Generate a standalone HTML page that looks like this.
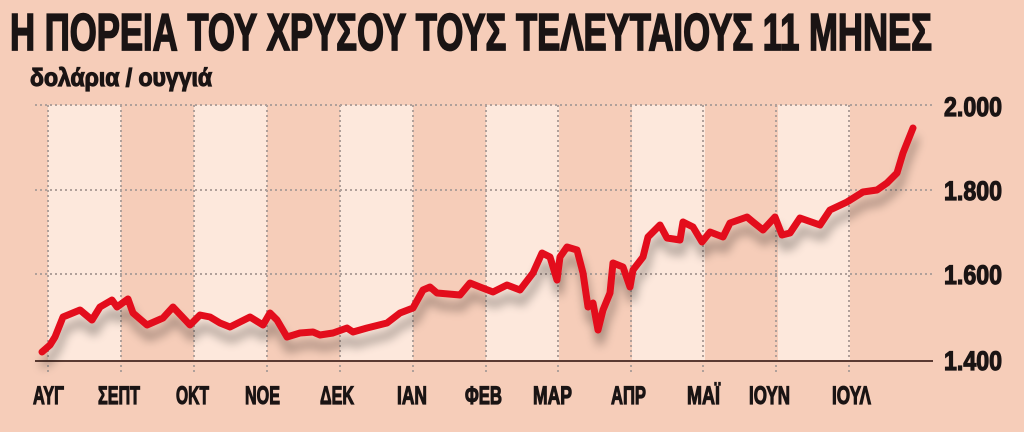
<!DOCTYPE html>
<html><head><meta charset="utf-8"><style>
html,body{margin:0;padding:0;background:#f6cdb9;}
body{width:1024px;height:427px;overflow:hidden;position:relative;font-family:"Liberation Sans",sans-serif;}
</style></head><body>
<svg width="1024" height="427" viewBox="0 0 1024 427" xmlns="http://www.w3.org/2000/svg">
<defs>
<filter id="sh" x="-10%" y="-30%" width="120%" height="180%">
<feGaussianBlur in="SourceAlpha" stdDeviation="5"/>
<feOffset dx="2" dy="12" result="b"/>
<feComponentTransfer><feFuncA type="linear" slope="0.35"/></feComponentTransfer>
<feMerge><feMergeNode/><feMergeNode in="SourceGraphic"/></feMerge>
</filter>
</defs>
<rect width="1024" height="427" fill="#f6cdb9"/>
<g fill="#fde8dc">
<rect x="48" y="105" width="73" height="256"/>
<rect x="194" y="105" width="73" height="256"/>
<rect x="340" y="105" width="73" height="256"/>
<rect x="486" y="105" width="73" height="256"/>
<rect x="632" y="105" width="73" height="256"/>
<rect x="778" y="105" width="72" height="256"/>
</g>
<g stroke="#b0a09a" stroke-width="2" stroke-dasharray="2,3">
<line x1="35" y1="105" x2="933" y2="105"/>
<line x1="35" y1="190" x2="933" y2="190"/>
<line x1="35" y1="274" x2="933" y2="274"/>
<line x1="48" y1="105" x2="48" y2="373"/>
<line x1="121" y1="105" x2="121" y2="373"/>
<line x1="194" y1="105" x2="194" y2="373"/>
<line x1="267" y1="105" x2="267" y2="373"/>
<line x1="340" y1="105" x2="340" y2="373"/>
<line x1="413" y1="105" x2="413" y2="373"/>
<line x1="486" y1="105" x2="486" y2="373"/>
<line x1="558" y1="105" x2="558" y2="373"/>
<line x1="631" y1="105" x2="631" y2="373"/>
<line x1="703" y1="105" x2="703" y2="373"/>
<line x1="776" y1="105" x2="776" y2="373"/>
<line x1="849" y1="105" x2="849" y2="373"/>
</g>
<line x1="35" y1="361" x2="933" y2="361" stroke="#5a3a32" stroke-width="2"/>
<polyline filter="url(#sh)" fill="none" stroke="#e3101e" stroke-width="7" stroke-linejoin="round" stroke-linecap="round"
points="42,352 50,345 55,337 63,317 80,310 92,320 100,307 112,300 117,307 128,299 133,313 147,325 163,318 173,307 190,325 200,315 210,317 220,323 230,327 240,322 250,317 263,325 270,313 277,320 287,337 300,333 313,332 320,335 333,333 347,328 353,332 367,328 387,323 400,313 413,308 423,290 430,287 437,293 460,295 470,283 480,287 493,292 507,285 520,290 533,273 542,253 550,257 557,280 560,257 567,247 577,250 583,273 588,307 593,303 598,330 603,310 610,293 613,263 623,267 630,287 633,270 643,257 648,237 660,225 667,238 680,240 683,222 693,227 702,242 710,232 723,237 730,223 747,217 753,222 763,230 775,217 782,235 790,233 800,218 820,225 830,210 847,202 863,192 877,190 887,183 897,173 903,153 913,128"/>
<g font-family="Liberation Sans, sans-serif" font-weight="bold" fill="#1a1414" stroke="#1a1414" stroke-width="1.2">
<text x="10" y="50" font-size="52" textLength="922" lengthAdjust="spacingAndGlyphs" stroke-width="1.8">Η ΠΟΡΕΙΑ ΤΟΥ ΧΡΥΣΟΥ ΤΟΥΣ ΤΕΛΕΥΤΑΙΟΥΣ 11 ΜΗΝΕΣ</text>
<text x="30" y="86" font-size="25" textLength="182" lengthAdjust="spacingAndGlyphs">δολάρια / ουγγιά</text>
<g font-size="27">
<text x="944" y="116" textLength="58" lengthAdjust="spacingAndGlyphs">2.000</text>
<text x="944" y="200" textLength="58" lengthAdjust="spacingAndGlyphs">1.800</text>
<text x="944" y="284" textLength="58" lengthAdjust="spacingAndGlyphs">1.600</text>
<text x="944" y="370" textLength="58" lengthAdjust="spacingAndGlyphs">1.400</text>
</g>
<g font-size="25">
<text x="33" y="404" textLength="31" lengthAdjust="spacingAndGlyphs">ΑΥΓ</text>
<text x="98" y="404" textLength="42" lengthAdjust="spacingAndGlyphs">ΣΕΠΤ</text>
<text x="176" y="404" textLength="33" lengthAdjust="spacingAndGlyphs">ΟΚΤ</text>
<text x="245" y="404" textLength="35" lengthAdjust="spacingAndGlyphs">ΝΟΕ</text>
<text x="320" y="404" textLength="34" lengthAdjust="spacingAndGlyphs">ΔΕΚ</text>
<text x="397" y="404" textLength="30" lengthAdjust="spacingAndGlyphs">ΙΑΝ</text>
<text x="465" y="404" textLength="37" lengthAdjust="spacingAndGlyphs">ΦΕΒ</text>
<text x="533" y="404" textLength="39" lengthAdjust="spacingAndGlyphs">ΜΑΡ</text>
<text x="611" y="404" textLength="35" lengthAdjust="spacingAndGlyphs">ΑΠΡ</text>
<text x="687" y="404" textLength="33" lengthAdjust="spacingAndGlyphs">ΜΑΪ</text>
<text x="749" y="404" textLength="41" lengthAdjust="spacingAndGlyphs">ΙΟΥΝ</text>
<text x="832" y="404" textLength="39" lengthAdjust="spacingAndGlyphs">ΙΟΥΛ</text>
</g>
</g>
</svg>
</body></html>
